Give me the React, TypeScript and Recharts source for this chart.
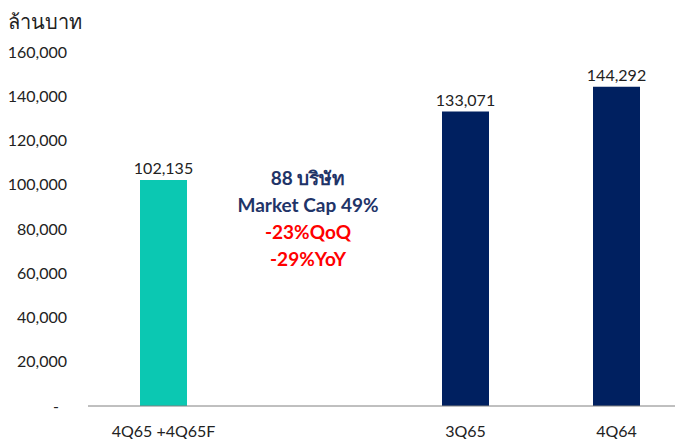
import { Bar, BarChart, Cell, LabelList, XAxis, YAxis } from "recharts";

const categories = ["4Q65 +4Q65F", "", "3Q65", "4Q64"];
const values = [102135, null, 133071, 144292];
const barColors = ["#0bc8b2", "#002060", "#002060", "#002060"];
const yTicks = [0, 20000, 40000, 60000, 80000, 100000, 120000, 140000, 160000];
const unitLabel = "ล้านบาท";
const noteLines = [
  { text: "88 บริษัท", color: "#1f3468" },
  { text: "Market Cap 49%", color: "#1f3468" },
  { text: "-23%QoQ", color: "#ff0000" },
  { text: "-29%YoY", color: "#ff0000" },
];

const data = categories.map((name, i) => ({ name, value: values[i] }));

const font = "Lato, 'Liberation Sans', sans-serif";

const fmt = (v: number) => (v === 0 ? "-" : v.toLocaleString("en-US"));

function YTick(props: any) {
  const { x, y, payload } = props;
  const isZero = payload.value === 0;
  return (
    <text x={isZero ? x - 8 : x} y={y} dy="0.35em" textAnchor="end" fill="#222" fontSize={16} fontFamily={font}>
      {fmt(payload.value)}
    </text>
  );
}

export default function App() {
  return (
    <div style={{ position: "relative", width: 675, height: 431, overflow: "hidden", fontFamily: font }}>
      <div style={{ position: "absolute", left: 0, top: 0, fontSize: 20, lineHeight: "26px", color: "#222" }}>{unitLabel}</div>
      <BarChart width={700} height={431} data={data} margin={{ top: 44, right: 16, bottom: 3, left: 0 }}>
        <XAxis
          dataKey="name"
          tickLine={false}
          axisLine={{ stroke: "#808080" }}
          tickMargin={14}
          tick={{ fill: "#222", fontSize: 16, fontFamily: font }}
          interval={0}
        />
        <YAxis
          width={80}
          domain={[0, 160000]}
          ticks={yTicks}
          axisLine={false}
          tickLine={false}
          tickMargin={15}
          tick={<YTick />}
        />
        <Bar dataKey="value" barSize={47} isAnimationActive={false}>
          {data.map((d, i) => (
            <Cell key={i} fill={barColors[i]} />
          ))}
          <LabelList
            dataKey="value"
            position="top"
            offset={6}
            formatter={(v: any) => (v == null ? "" : Number(v).toLocaleString("en-US"))}
            style={{ fill: "#222", fontSize: 16, fontFamily: font }}
          />
        </Bar>
      </BarChart>
      <div
        style={{
          position: "absolute",
          left: 200,
          top: 156,
          width: 200,
          textAlign: "center",
          fontSize: 19,
          lineHeight: "27px",
          fontWeight: 700,
        }}
      >
        {noteLines.map((l) => (
          <div key={l.text} style={{ color: l.color }}>
            {l.text}
          </div>
        ))}
      </div>
    </div>
  );
}
